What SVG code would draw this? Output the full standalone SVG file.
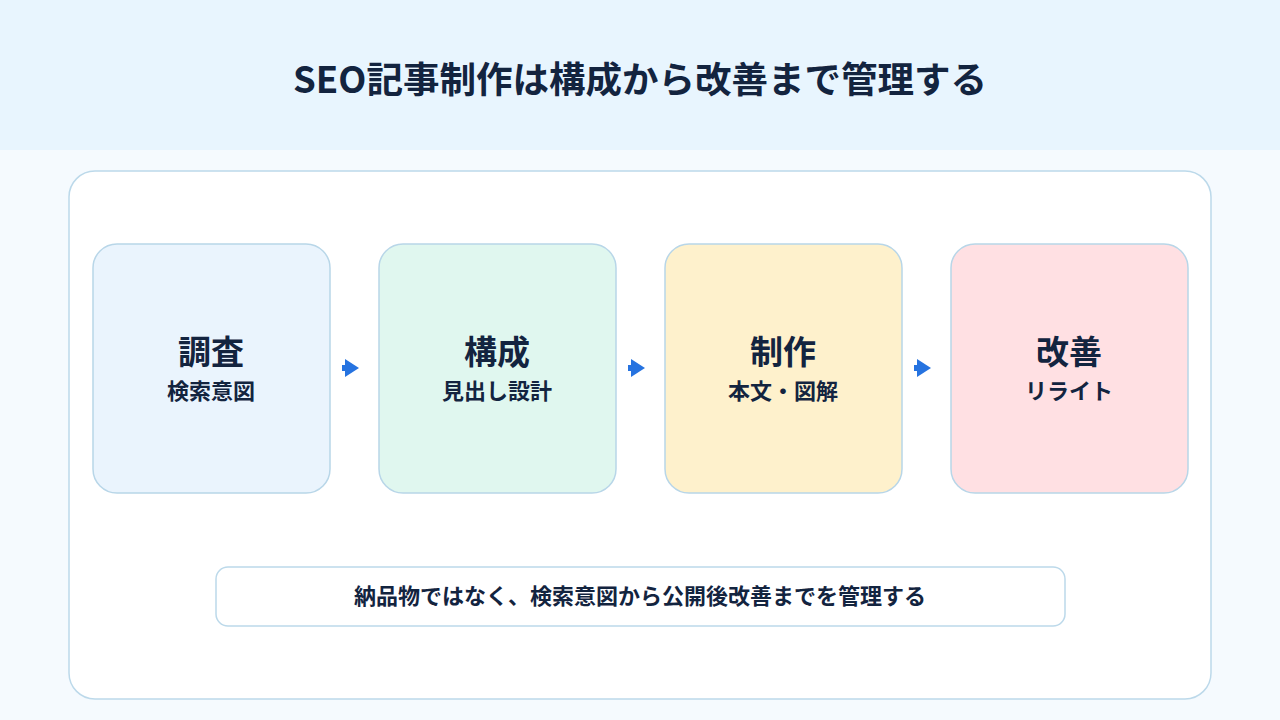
<svg xmlns="http://www.w3.org/2000/svg" width="1280" height="720" viewBox="0 0 1280 720">
<style>
text{font-family:"Noto Sans CJK JP","Noto Sans",sans-serif;fill:#13243F;font-weight:700;text-anchor:middle}
.box{stroke:#B8D6E8;stroke-width:1.5}
.t{font-size:33px}.s{font-size:22px}
</style>
<defs><marker id="ah" markerWidth="14" markerHeight="18" refX="2" refY="9" orient="auto" markerUnits="userSpaceOnUse"><path d="M0,0L14,9L0,18Z" fill="#2673E0"/></marker></defs>
<rect width="1280" height="720" fill="#F5FAFE"/>
<rect width="1280" height="150" fill="#E8F5FE"/>
<text x="640" y="93" font-size="36.5">SEO記事制作は構成から改善まで管理する</text>
<rect x="69" y="171" width="1142" height="528" rx="26" fill="#fff" stroke="#BCD9EA" stroke-width="1.5"/>
<g id="n1"><rect class="box" x="93" y="244" width="237" height="249" rx="24" fill="#EAF4FD"/><text class="t" x="211" y="364">調査</text><text class="s" x="211" y="399">検索意図</text></g>
<g id="n2"><rect class="box" x="379" y="244" width="237" height="249" rx="24" fill="#E0F7EF"/><text class="t" x="497" y="364">構成</text><text class="s" x="497" y="399">見出し設計</text></g>
<g id="n3"><rect class="box" x="665" y="244" width="237" height="249" rx="24" fill="#FEF1CC"/><text class="t" x="783" y="364">制作</text><text class="s" x="783" y="399">本文・図解</text></g>
<g id="n4"><rect class="box" x="951" y="244" width="237" height="249" rx="24" fill="#FFE0E3"/><text class="t" x="1069" y="364">改善</text><text class="s" x="1069" y="399">リライト</text></g>
<g id="connectors" stroke="#2673E0" stroke-width="6">
<line x1="342" y1="368" x2="347" y2="368" marker-end="url(#ah)"/>
<line x1="628" y1="368" x2="633" y2="368" marker-end="url(#ah)"/>
<line x1="914" y1="368" x2="919" y2="368" marker-end="url(#ah)"/>
</g>
<g id="note"><rect x="216" y="567" width="849" height="59" rx="12" fill="#fff" stroke="#BCD9EA" stroke-width="1.5"/><text x="640" y="604" font-size="22">納品物ではなく、検索意図から公開後改善までを管理する</text></g>
</svg>
